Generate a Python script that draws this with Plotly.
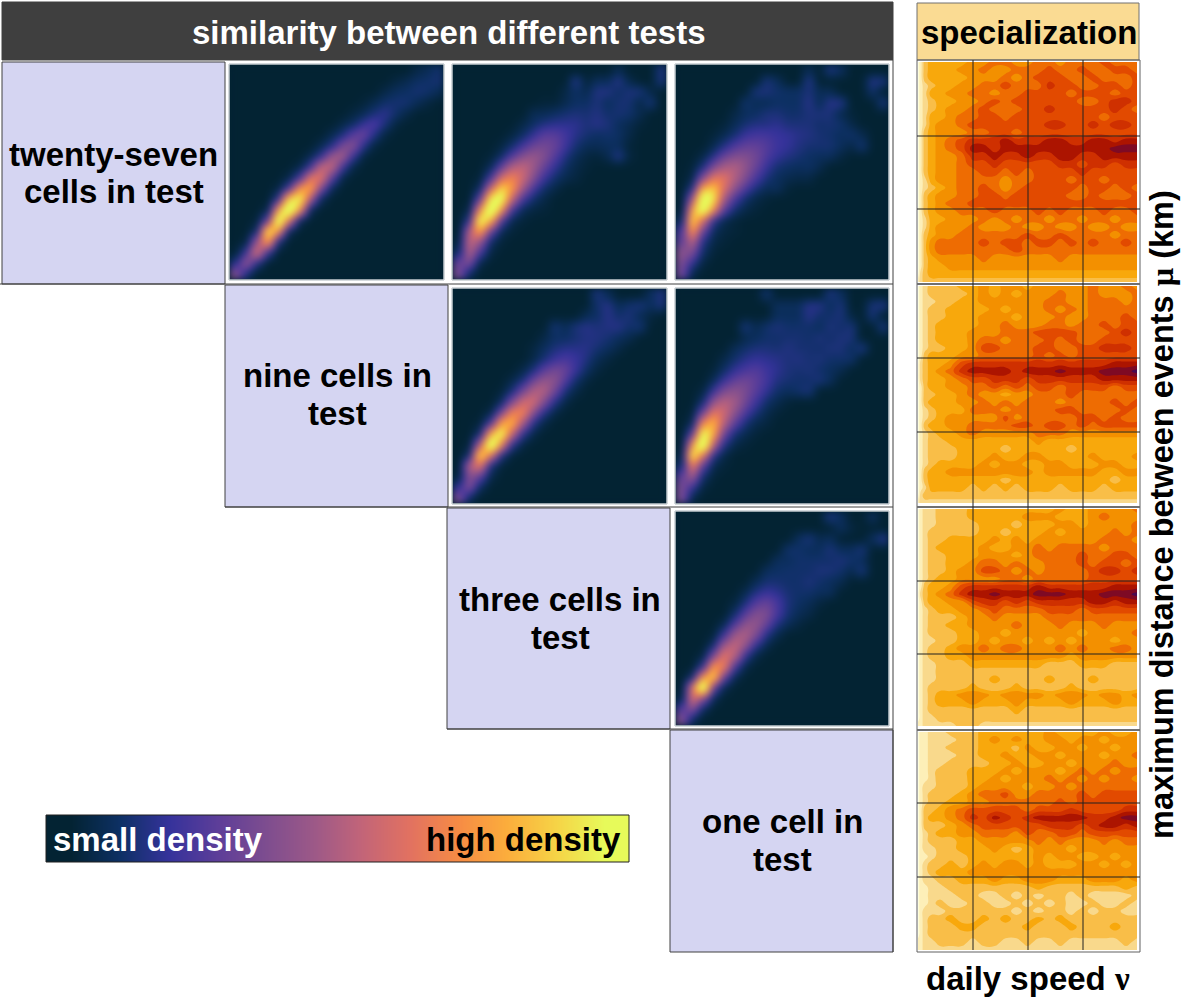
import plotly.graph_objects as go

W, H = 1181, 998

thermal = ["#032333", "#0d3064", "#35329b", "#5d3e99", "#7e4d8f", "#9e5987",
           "#c16479", "#e17161", "#f68b45", "#fbad3c", "#f6d346", "#e7fa5a"]
spec_colors = ["#FFFEDC", "#FDEFB8", "#F9D98C", "#F9BE48", "#F8A80C", "#F39000",
               "#EE6C02", "#E24A00", "#CF3000", "#AC1400", "#7E0A24", "#4A0A50"]

title_left = "similarity between different tests"
title_right = "specialization"
row_labels = [("twenty-seven", "cells in test"), ("nine cells in", "test"),
              ("three cells in", "test"), ("one cell in", "test")]

legend_values = [0, 9, 18, 27, 36, 45, 55, 64, 73, 82, 91, 100]

# density panels, bottom row first, 0-100
density_12 = [
    [30,10,0,0,0,0,0,0,0,0,0,0,0,0,0,0,0,0,0,0],
    [12,35,12,0,0,0,0,0,0,0,0,0,0,0,0,0,0,0,0,0],
    [1,18,50,15,0,0,0,0,0,0,0,0,0,0,0,0,0,0,0,0],
    [0,2,35,65,10,0,0,0,0,0,0,0,0,0,0,0,0,0,0,0],
    [0,0,8,80,60,5,0,0,0,0,0,0,0,0,0,0,0,0,0,0],
    [0,0,1,25,95,50,4,0,0,0,0,0,0,0,0,0,0,0,0,0],
    [0,0,0,3,60,100,60,5,0,0,0,0,0,0,0,0,0,0,0,0],
    [0,0,0,0,14,72,82,40,6,0,0,0,0,0,0,0,0,0,0,0],
    [0,0,0,0,2,18,60,66,30,5,0,0,0,0,0,0,0,0,0,0],
    [0,0,0,0,0,3,18,52,52,22,3,0,0,0,0,0,0,0,0,0],
    [0,0,0,0,0,0,3,16,44,44,18,3,0,0,0,0,0,0,0,0],
    [0,0,0,0,0,0,0,4,14,36,38,16,2,0,0,0,0,0,0,0],
    [0,0,0,0,0,0,0,0,4,12,28,31,13,2,0,0,0,0,0,0],
    [0,0,0,0,0,0,0,0,0,4,10,21,25,12,2,0,0,0,0,0],
    [0,0,0,0,0,0,0,0,0,0,3,7,15,19,10,2,0,0,0,0],
    [0,0,0,0,0,0,0,0,0,0,0,2,5,10,13,8,3,0,0,0],
    [0,0,0,0,0,0,0,0,0,0,0,0,1,4,8,9,9,5,2,0],
    [0,0,0,0,0,0,0,0,0,0,0,0,0,0,3,6,7,9,8,5],
    [0,0,0,0,0,0,0,0,0,0,0,0,0,0,0,2,4,7,8,9],
    [0,0,0,0,0,0,0,0,0,0,0,0,0,0,0,0,0,3,5,8],
]
density_13 = [
    [28,6,0,0,0,0,0,0,0,0,0,0,0,0,0,0,0,0,0,0],
    [24,28,3,0,0,0,0,0,0,0,0,0,0,0,0,0,0,0,0,0],
    [8,40,18,2,0,0,0,0,0,0,0,0,0,0,0,0,0,0,0,0],
    [2,45,35,7,1,0,0,0,0,0,0,0,0,0,0,0,0,0,0,0],
    [0,40,65,25,5,1,0,0,0,0,0,0,0,0,0,0,0,0,0,0],
    [0,15,85,65,20,4,1,0,0,0,0,0,0,0,0,0,0,0,0,0],
    [0,3,55,100,60,18,5,2,1,0,0,0,0,0,0,0,0,0,0,0],
    [0,0,22,80,88,45,18,8,3,0,0,0,0,0,0,0,0,0,0,0],
    [0,0,6,45,75,62,36,18,8,3,0,0,0,0,0,0,0,0,0,0],
    [0,0,1,18,48,57,46,30,16,8,4,2,0,0,0,0,0,0,0,0],
    [0,0,0,5,22,40,44,36,24,14,7,3,1,0,0,0,0,0,0,0],
    [0,0,0,1,7,20,31,35,30,20,11,5,2,1,4,12,2,0,0,0],
    [0,0,0,0,2,8,17,25,27,24,16,9,5,5,6,6,1,0,0,0],
    [0,0,0,0,0,2,7,14,21,21,17,12,9,7,8,7,3,0,0,0],
    [0,0,0,0,0,0,3,7,11,13,13,13,10,12,10,6,4,1,0,0],
    [0,0,0,0,0,0,0,5,5,7,9,10,9,11,8,9,8,4,0,0],
    [0,0,0,0,0,0,0,0,1,1,4,7,7,10,6,9,9,3,10,0],
    [0,0,0,0,0,0,0,0,0,0,3,7,4,11,11,7,10,10,3,0],
    [0,0,0,0,0,0,0,0,0,0,0,12,1,6,6,12,4,0,0,10],
    [0,0,0,0,0,0,0,0,0,0,0,0,0,0,0,5,0,0,0,10],
]
density_14 = [
    [26,3,0,0,0,0,0,0,0,0,0,0,0,0,0,0,0,0,0,0],
    [28,14,2,0,0,0,0,0,0,0,0,0,0,0,0,0,0,0,0,0],
    [32,28,7,1,0,0,0,0,0,0,0,0,0,0,0,0,0,0,0,0],
    [22,42,12,3,1,0,0,0,0,0,0,0,0,0,0,0,0,0,0,0],
    [18,62,25,6,2,1,0,0,0,0,0,0,0,0,0,0,0,0,0,0],
    [6,75,48,14,4,1,0,0,0,0,0,0,0,0,0,0,0,0,0,0],
    [0,62,92,58,22,8,3,1,0,0,0,0,0,0,0,0,0,0,0,0],
    [0,35,95,78,38,18,8,3,1,0,0,0,0,0,0,0,0,0,0,0],
    [0,12,65,72,50,32,19,10,5,6,1,0,0,0,0,0,0,0,0,0],
    [0,3,30,52,52,40,29,18,10,6,4,3,3,0,0,0,0,0,0,0],
    [0,1,10,28,38,40,33,24,15,9,7,6,7,4,0,0,0,0,0,0],
    [0,0,3,12,24,30,30,26,19,14,11,9,7,6,6,2,0,0,0,0],
    [0,0,0,4,11,19,23,23,20,16,14,11,9,9,9,6,3,9,0,0],
    [0,0,0,1,4,9,15,17,17,15,14,12,11,9,8,6,8,4,0,0],
    [0,0,0,0,1,5,9,11,11,13,10,10,10,8,9,8,3,0,0,0],
    [0,0,0,0,0,3,6,7,10,10,8,8,10,10,10,4,1,0,0,0],
    [0,0,0,0,0,0,8,5,5,7,7,7,12,5,12,12,0,0,0,10],
    [0,0,0,0,0,0,0,10,10,8,7,7,10,5,5,0,0,0,8,0],
    [0,0,0,0,0,0,0,0,10,6,0,0,12,0,0,0,0,0,12,10],
    [0,0,0,0,0,0,0,0,0,0,0,0,5,0,10,6,0,0,0,0],
]
density_23 = [
    [28,6,0,0,0,0,0,0,0,0,0,0,0,0,0,0,0,0,0,0],
    [14,30,6,0,0,0,0,0,0,0,0,0,0,0,0,0,0,0,0,0],
    [2,32,22,3,0,0,0,0,0,0,0,0,0,0,0,0,0,0,0,0],
    [0,40,52,10,1,0,0,0,0,0,0,0,0,0,0,0,0,0,0,0],
    [0,8,78,50,12,1,0,0,0,0,0,0,0,0,0,0,0,0,0,0],
    [0,1,40,98,55,14,2,0,0,0,0,0,0,0,0,0,0,0,0,0],
    [0,0,8,65,85,45,14,3,0,0,0,0,0,0,0,0,0,0,0,0],
    [0,0,1,18,62,68,38,13,3,0,0,0,0,0,0,0,0,0,0,0],
    [0,0,0,3,26,55,57,32,13,3,0,0,0,0,0,0,0,0,0,0],
    [0,0,0,0,6,28,47,48,30,12,3,0,0,0,0,0,0,0,0,0],
    [0,0,0,0,1,9,26,40,41,26,10,3,0,0,0,0,0,0,0,0],
    [0,0,0,0,0,3,10,25,34,32,20,8,2,0,0,0,0,0,0,0],
    [0,0,0,0,0,0,3,10,21,27,24,15,7,2,0,0,0,0,0,0],
    [0,0,0,0,0,0,0,3,9,15,18,15,11,5,2,0,0,0,0,0],
    [0,0,0,0,0,0,0,2,6,10,12,12,12,9,6,3,0,0,0,0],
    [0,0,0,0,0,0,0,0,3,7,7,9,11,11,9,6,4,0,0,0],
    [0,0,0,0,0,0,0,0,0,9,5,10,12,10,11,12,8,9,0,0],
    [0,0,0,0,0,0,0,0,0,0,0,0,5,7,12,8,10,5,2,0],
    [0,0,0,0,0,0,0,0,0,0,0,0,0,8,12,5,8,10,6,10],
    [0,0,0,0,0,0,0,0,0,0,0,0,0,10,5,0,0,0,6,10],
]
density_24 = [
    [28,3,0,0,0,0,0,0,0,0,0,0,0,0,0,0,0,0,0,0],
    [28,16,2,0,0,0,0,0,0,0,0,0,0,0,0,0,0,0,0,0],
    [22,36,8,1,0,0,0,0,0,0,0,0,0,0,0,0,0,0,0,0],
    [8,55,22,4,1,0,0,0,0,0,0,0,0,0,0,0,0,0,0,0],
    [2,82,52,14,3,0,0,0,0,0,0,0,0,0,0,0,0,0,0,0],
    [0,58,100,42,12,3,1,0,0,0,0,0,0,0,0,0,0,0,0,0],
    [0,22,85,66,26,9,4,1,0,0,0,0,0,0,0,0,0,0,0,0],
    [0,5,55,68,42,22,10,4,2,0,0,0,0,0,0,0,0,0,0,0],
    [0,1,25,52,47,32,19,10,4,1,0,0,0,0,0,0,0,0,0,0],
    [0,0,8,33,42,37,26,16,8,4,1,0,0,0,0,0,0,0,0,0],
    [0,0,2,15,28,32,28,21,14,8,6,8,10,0,0,0,0,0,0,0],
    [0,0,0,5,15,23,26,22,17,11,9,8,8,10,6,0,0,0,0,0],
    [0,0,0,1,7,14,18,20,16,13,10,9,10,8,6,4,0,0,0,0],
    [0,0,0,0,3,8,12,14,13,12,10,11,9,10,8,8,8,0,0,0],
    [0,0,0,0,0,5,8,10,10,9,11,9,9,8,10,10,6,11,0,0],
    [0,0,0,0,0,0,4,6,8,8,9,9,8,10,8,10,10,0,0,0],
    [0,0,0,0,0,0,10,4,8,10,8,8,8,6,10,8,10,0,0,10],
    [0,0,0,0,0,0,0,0,0,6,6,6,12,8,8,10,2,0,10,0],
    [0,0,0,0,0,0,0,0,0,6,6,6,12,12,6,10,0,0,10,11],
    [0,0,0,0,0,0,0,0,8,0,0,0,0,0,10,6,0,0,0,0],
]
density_34 = [
    [30,6,0,0,0,0,0,0,0,0,0,0,0,0,0,0,0,0,0,0],
    [20,30,6,0,0,0,0,0,0,0,0,0,0,0,0,0,0,0,0,0],
    [3,50,30,5,0,0,0,0,0,0,0,0,0,0,0,0,0,0,0,0],
    [0,50,100,25,4,0,0,0,0,0,0,0,0,0,0,0,0,0,0,0],
    [0,8,60,75,25,4,0,0,0,0,0,0,0,0,0,0,0,0,0,0],
    [0,0,15,62,55,18,3,0,0,0,0,0,0,0,0,0,0,0,0,0],
    [0,0,2,28,52,42,15,3,0,0,0,0,0,0,0,0,0,0,0,0],
    [0,0,0,8,36,45,34,14,4,0,0,0,0,0,0,0,0,0,0,0],
    [0,0,0,1,16,36,40,29,12,4,0,0,0,0,0,0,0,0,0,0],
    [0,0,0,0,4,20,33,34,24,11,5,2,0,0,0,0,0,0,0,0],
    [0,0,0,0,0,8,21,30,29,18,9,5,3,0,0,0,0,0,0,0],
    [0,0,0,0,0,2,10,20,24,18,10,7,5,2,0,0,0,0,0,0],
    [0,0,0,0,0,0,4,11,15,13,9,8,8,6,6,0,0,0,0,0],
    [0,0,0,0,0,0,0,5,9,9,8,8,10,8,6,4,0,0,0,0],
    [0,0,0,0,0,0,0,0,6,7,8,8,8,10,10,8,4,10,0,0],
    [0,0,0,0,0,0,0,0,0,6,6,8,8,8,8,10,8,6,0,0],
    [0,0,0,0,0,0,0,0,0,0,8,8,6,6,10,6,6,10,0,0],
    [0,0,0,0,0,0,0,0,0,0,0,6,10,4,6,0,0,0,6,12],
    [0,0,0,0,0,0,0,0,0,0,0,0,0,0,0,6,2,0,0,0],
    [0,0,0,0,0,0,0,0,0,0,0,0,0,0,10,6,0,0,6,0],
]

# specialization panels, top row first, level 0-11
spec_x = [0, .012, .03, .06, .1, .15, .2, .25, .3, .35, .4, .45, .5, .55, .6, .65, .7, .75, .8, .85, .9, .95, 1]
spec_y = list(range(29))
spec_1 = [
    [0,1,3,4,4,4,4,5,5,6,6,5,5,6,6,5,6,6,6,7,6,6,6],
    [0,1,3,4,4,4,5,5,6,5,5,6,6,6,7,6,6,7,6,6,7,7,6],
    [0,1,3,4,4,4,4,5,5,5,6,5,6,7,7,7,6,6,7,6,6,6,7],
    [0,1,2,3,4,4,5,5,6,6,7,6,6,6,8,7,7,6,6,7,7,6,7],
    [0,1,2,4,4,5,5,6,6,5,6,6,7,7,7,7,6,7,7,7,6,7,7],
    [0,1,2,3,4,4,5,5,6,7,6,7,7,7,7,7,7,6,6,7,8,8,7],
    [0,1,2,3,4,5,5,6,7,6,6,6,7,7,8,7,7,7,7,7,8,7,6],
    [0,1,2,4,4,5,6,6,7,7,6,7,7,7,7,7,7,7,7,6,7,7,7],
    [0,1,2,4,5,5,6,7,7,7,7,7,7,7,8,8,7,7,8,7,8,8,7],
    [0,1,3,4,5,5,5,6,6,7,7,6,7,7,7,7,7,7,7,7,7,7,7],
    [0,1,3,4,5,6,7,8,8,8,9,8,8,8,9,9,8,8,9,9,8,9,9],
    [0,1,3,4,5,6,7,9,9,8,9,9,9,9,9,9,9,9,9,9,10,10,10],
    [0,1,3,4,5,5,6,8,8,9,8,8,9,8,8,9,9,8,8,9,9,9,9],
    [0,1,3,4,5,5,6,7,7,8,7,7,7,7,7,8,8,7,8,8,7,8,8],
    [0,1,3,4,5,5,6,6,7,7,6,7,6,7,7,7,7,8,7,7,7,7,7],
    [0,1,2,4,5,5,6,6,6,6,5,6,6,7,7,7,6,7,7,6,7,7,7],
    [0,1,2,3,4,5,6,6,7,6,5,6,7,7,7,7,7,6,7,7,6,7,6],
    [0,1,3,4,5,5,6,6,7,7,6,7,7,7,7,7,6,6,7,6,6,6,7],
    [0,1,3,4,5,6,6,7,7,7,7,7,7,7,7,7,7,7,7,7,7,7,7],
    [0,1,3,4,5,5,6,6,6,7,6,6,6,7,6,7,6,6,6,7,6,6,7],
    [0,1,2,4,4,5,5,5,6,5,6,5,6,6,5,6,6,5,6,6,5,6,6],
    [0,1,2,4,5,5,5,6,5,5,5,6,5,5,6,5,5,6,5,5,6,5,5],
    [0,1,3,4,5,5,6,6,6,6,6,6,7,6,6,7,6,6,6,6,5,6,6],
    [0,1,3,5,6,6,6,6,7,6,7,7,6,7,7,6,7,6,7,6,6,7,6],
    [0,1,3,5,6,6,6,6,6,6,6,7,6,6,6,6,6,6,6,6,6,6,6],
    [0,1,3,4,5,5,5,5,6,5,5,5,5,5,5,6,5,5,5,5,5,5,5],
    [0,1,3,4,4,5,5,5,5,5,5,5,5,5,5,5,5,5,5,5,5,5,5],
    [0,2,3,4,4,4,4,4,4,4,4,4,4,4,4,4,4,4,4,4,4,4,4],
    [1,2,3,3,3,3,3,3,3,3,3,3,3,3,3,3,3,3,3,3,3,3,3],
]
spec_2 = [
    [0,1,2,3,3,3,4,4,5,4,5,5,4,5,5,5,5,5,6,5,5,6,5],
    [0,1,2,3,3,3,3,4,5,4,5,4,5,5,5,6,5,5,6,5,5,5,6],
    [0,1,2,2,3,3,4,4,5,5,5,5,5,5,6,6,5,5,6,6,6,5,6],
    [0,1,2,3,3,4,4,4,4,5,4,5,5,5,6,5,6,5,6,6,6,6,6],
    [0,1,2,3,3,4,4,4,5,5,5,4,5,5,5,6,5,5,6,6,6,7,6],
    [0,1,2,3,4,4,4,4,5,5,6,5,5,5,6,6,5,6,6,7,6,7,7],
    [0,1,2,3,4,4,4,5,5,5,6,6,6,7,7,7,7,6,6,6,7,8,7],
    [0,1,2,3,4,4,4,5,6,6,5,6,6,6,7,6,7,6,6,7,7,7,7],
    [0,1,2,3,3,4,4,5,7,7,6,6,6,7,7,6,6,7,7,8,8,8,7],
    [0,1,3,4,4,4,5,5,6,6,6,6,6,7,6,7,6,7,7,7,7,7,7],
    [0,2,3,4,4,5,7,8,8,8,8,8,8,8,8,8,8,8,8,8,9,9,9],
    [0,2,3,4,5,6,8,9,9,9,9,8,9,9,9,10,9,9,9,10,10,10,11],
    [0,2,3,4,4,5,6,7,7,8,8,8,7,8,8,8,8,8,8,9,9,9,9],
    [0,1,3,4,4,5,5,6,6,7,6,7,6,7,7,6,7,7,7,7,6,7,7],
    [0,1,3,3,4,4,5,6,5,5,4,5,5,6,6,6,7,6,6,6,6,6,6],
    [0,1,3,4,4,4,5,5,6,5,6,5,6,6,6,5,6,6,6,6,7,6,7],
    [0,1,2,3,4,4,4,6,6,6,5,6,6,6,6,7,7,6,6,6,6,7,6],
    [0,1,2,3,4,5,5,5,5,5,7,5,6,6,6,6,6,7,7,6,7,6,6],
    [0,1,3,4,4,5,5,6,6,6,6,7,7,6,7,7,6,7,6,7,7,7,7],
    [0,1,2,3,4,4,5,6,5,5,5,5,5,6,6,6,5,5,5,5,5,5,5],
    [0,1,2,3,3,4,4,4,4,4,4,4,4,5,4,4,4,4,4,4,4,4,4],
    [0,1,2,3,3,3,4,4,4,4,3,4,4,4,4,4,3,4,4,4,4,4,4],
    [0,1,2,3,3,3,4,4,4,5,4,4,5,5,4,4,4,4,5,4,4,4,5],
    [0,1,2,3,4,4,4,4,5,4,5,5,4,4,5,5,4,4,4,5,5,4,4],
    [0,1,3,4,4,5,5,5,5,5,5,5,5,4,5,5,5,5,5,4,4,5,5],
    [0,1,3,4,4,4,4,4,4,4,3,4,4,4,4,4,4,4,4,4,3,4,4],
    [0,1,2,4,4,4,4,3,4,3,4,3,4,4,4,3,4,4,4,3,4,4,4],
    [0,2,3,3,3,3,3,3,3,3,3,3,3,3,3,3,3,3,3,3,3,3,3],
    [1,2,2,2,2,2,2,2,2,2,2,2,2,2,2,2,2,2,2,2,2,2,2],
]
spec_3 = [
    [0,1,2,2,3,3,3,4,4,4,4,4,4,4,4,5,4,4,5,5,5,5,6],
    [0,1,2,2,3,3,3,4,4,4,4,4,5,5,5,4,4,4,5,6,5,5,5],
    [0,1,2,2,3,3,3,3,4,4,4,3,4,4,4,5,5,4,5,5,5,5,6],
    [0,1,2,3,3,3,3,3,4,4,3,4,4,4,5,4,5,5,5,5,6,5,6],
    [0,1,2,3,3,4,4,4,4,5,4,5,4,5,5,5,5,5,5,6,6,6,5],
    [0,1,2,3,4,4,4,4,5,4,4,5,5,6,5,6,6,6,6,5,6,6,6],
    [0,1,2,3,3,4,4,4,5,5,5,4,5,6,6,6,6,7,6,6,7,7,6],
    [0,1,2,3,3,4,4,5,6,6,5,6,5,5,6,6,6,7,6,7,7,6,7],
    [0,1,2,3,3,4,5,5,7,7,6,5,6,5,6,6,6,6,7,8,8,7,8],
    [0,1,2,3,4,4,5,5,5,5,6,6,5,6,6,6,6,6,7,7,7,7,7],
    [0,1,3,4,4,5,7,8,8,8,8,8,8,9,8,8,8,8,8,8,9,9,9],
    [0,2,3,4,5,6,8,9,9,10,9,9,9,10,10,10,9,9,9,10,10,10,11],
    [0,1,3,4,4,5,5,7,8,8,7,8,7,8,8,8,8,8,9,9,8,9,9],
    [0,1,2,3,4,4,5,5,6,7,6,6,6,6,7,7,7,6,7,7,7,7,7],
    [0,1,2,3,3,3,4,5,5,6,5,5,5,5,6,6,6,6,6,6,6,6,6],
    [0,1,2,3,3,4,4,5,5,5,5,6,5,5,5,6,5,5,5,6,5,5,5],
    [0,1,2,3,3,3,4,4,5,5,4,5,5,5,5,5,5,4,5,5,5,5,6],
    [0,1,2,2,3,3,4,4,5,4,5,5,4,5,4,5,4,5,5,5,4,5,5],
    [0,1,2,3,3,4,5,5,6,5,6,6,5,5,5,6,5,6,5,5,6,6,5],
    [0,1,2,3,3,4,4,5,5,5,5,5,5,5,5,5,4,5,5,5,5,5,5],
    [0,1,2,2,3,3,3,4,4,4,4,4,4,4,3,3,3,4,4,4,3,3,3],
    [0,1,2,2,3,3,3,3,3,3,3,3,3,3,3,3,3,3,3,3,3,3,3],
    [0,1,2,2,3,3,3,3,3,4,3,3,3,3,4,3,3,3,4,3,3,3,3],
    [0,1,2,3,3,3,3,4,3,3,3,4,3,3,3,3,4,3,3,3,3,3,3],
    [0,1,2,3,4,4,5,5,5,4,5,5,5,5,4,5,5,5,4,5,5,4,5],
    [0,1,2,3,4,4,4,5,4,4,4,5,4,4,4,4,5,4,4,4,5,4,4],
    [0,1,2,3,3,3,3,3,3,3,3,4,3,3,3,3,3,3,3,3,3,3,3],
    [0,1,2,2,3,3,3,3,3,3,3,3,3,3,3,3,3,3,3,3,3,3,3],
    [1,1,2,2,2,2,3,3,2,2,2,2,2,2,2,2,2,2,2,2,2,2,2],
]
spec_4 = [
    [0,1,1,2,2,3,3,3,4,4,4,4,4,4,5,4,4,4,4,5,4,4,5],
    [0,1,1,2,2,2,3,3,4,5,4,5,4,4,5,5,4,5,5,4,5,5,5],
    [0,1,1,2,2,3,3,3,4,4,4,3,5,4,4,5,5,4,5,5,4,5,5],
    [0,1,1,2,2,2,3,3,4,4,5,4,4,5,5,4,5,5,5,4,5,5,6],
    [0,1,1,2,2,3,3,3,3,4,4,5,4,4,5,5,4,5,5,5,6,5,5],
    [0,1,1,2,3,3,3,4,4,4,5,4,5,5,5,4,5,6,5,6,5,6,6],
    [0,1,1,2,3,3,3,4,4,5,4,5,5,5,6,5,6,5,6,5,6,6,5],
    [0,1,2,2,3,3,3,4,5,5,5,5,4,5,5,6,5,6,6,6,6,6,6],
    [0,1,2,3,3,3,4,5,6,6,7,5,5,6,6,6,6,7,6,7,7,7,7],
    [0,1,2,3,3,4,4,5,5,6,6,6,6,6,6,7,6,7,7,7,7,7,7],
    [0,1,3,3,4,5,6,7,7,7,7,7,6,7,7,7,8,7,7,7,7,8,8],
    [0,1,3,4,4,5,6,8,7,9,8,7,8,9,9,9,9,9,8,8,9,10,10],
    [0,1,3,3,3,4,5,6,7,7,7,7,7,7,8,8,8,7,8,9,9,8,9],
    [0,1,2,3,4,4,5,5,6,6,6,5,7,6,6,7,7,6,7,7,7,7,7],
    [0,1,2,3,3,3,4,4,5,5,5,5,5,6,5,6,5,5,5,6,5,6,6],
    [0,1,2,2,3,3,4,4,4,5,4,3,4,5,5,5,4,5,5,5,5,5,5],
    [0,1,1,2,3,3,3,4,4,4,4,4,4,5,4,5,5,4,4,5,4,5,5],
    [0,1,2,3,3,4,3,4,5,4,5,5,4,5,4,4,4,5,5,4,5,4,5],
    [0,1,2,3,4,4,4,5,5,5,5,5,5,5,5,5,5,5,5,5,5,5,5],
    [0,1,2,2,3,3,4,4,4,5,4,4,5,5,5,4,4,4,5,5,5,4,5],
    [0,1,1,2,2,3,3,3,3,3,3,3,3,4,3,3,3,3,3,3,3,4,3],
    [0,1,1,2,2,2,3,3,2,2,3,2,3,2,3,3,2,3,2,2,2,2,3],
    [0,1,1,2,3,2,2,3,3,2,2,3,2,3,2,3,2,2,3,2,2,3,2],
    [0,1,2,2,2,3,3,3,3,3,3,2,3,2,3,3,2,3,2,3,3,2,2],
    [0,1,2,3,3,4,3,3,4,3,4,3,3,4,3,4,3,3,3,3,3,3,3],
    [0,1,2,3,3,3,4,4,3,3,3,3,4,3,3,3,4,3,3,3,4,3,3],
    [0,1,2,3,3,3,3,3,3,3,3,3,3,3,3,3,3,3,3,3,3,3,3],
    [1,1,2,2,3,3,3,2,3,3,2,2,3,2,2,3,2,2,2,2,2,3,2],
    [1,1,2,2,2,2,2,2,2,2,2,2,2,2,2,2,2,2,2,2,2,2,2],
]


def px(x):
    return x / W


def py(y):
    return 1 - y / H


def rect(x0, y0, x1, y1, fill=None, line="#404040", width=1, layer="below"):
    return dict(type="rect", xref="paper", yref="paper", x0=px(x0), x1=px(x1), y0=py(y0), y1=py(y1),
                fillcolor=fill or "rgba(0,0,0,0)", line=dict(color=line, width=width), layer=layer)


def hline(x0, x1, y, color="#202020", width=1):
    return dict(type="line", xref="paper", yref="paper", x0=px(x0), x1=px(x1), y0=py(y), y1=py(y),
                line=dict(color=color, width=width), layer="above")


def vline(x, y0, y1, color="#202020", width=1):
    return dict(type="line", xref="paper", yref="paper", x0=px(x), x1=px(x), y0=py(y0), y1=py(y1),
                line=dict(color=color, width=width), layer="above")


def label(x, y, text, size=33, color="black", angle=0):
    return dict(xref="paper", yref="paper", x=px(x), y=py(y), text="<b>" + text + "</b>", showarrow=False,
                xanchor="center", yanchor="middle", textangle=angle,
                font=dict(family="Liberation Sans", size=size, color=color))


fig = go.Figure()
layout = {}
n = 0


def add_axes(box, **yopts):
    global n
    n += 1
    x0, y0, x1, y1 = box
    layout[f"xaxis{n}"] = dict(domain=[px(x0), px(x1)], visible=False, fixedrange=True, anchor=f"y{n}")
    layout[f"yaxis{n}"] = dict(domain=[py(y1), py(y0)], visible=False, fixedrange=True, anchor=f"x{n}", **yopts)
    return f"x{n}", f"y{n}"


thermal_scale = [[i / 11, c] for i, c in enumerate(thermal)]
density_panels = [
    (density_12, (230, 65, 443, 279)),
    (density_13, (453, 65, 666, 279)),
    (density_14, (676, 65, 888, 279)),
    (density_23, (453, 289, 666, 503)),
    (density_24, (676, 289, 888, 503)),
    (density_34, (676, 512, 888, 725)),
]
for z, box in density_panels:
    xa, ya = add_axes(box)
    # zmax under 100 so the blurred core still reaches yellow
    fig.add_trace(go.Heatmap(z=z, xaxis=xa, yaxis=ya, zmin=0, zmax=80, zsmooth="best",
                             colorscale=thermal_scale, showscale=False, hoverinfo="skip"))

spec_scale = [[i / 11, c] for i, c in enumerate(spec_colors)]
spec_panels = [
    (spec_1, (918, 62, 1137, 282)),
    (spec_2, (918, 286, 1137, 503)),
    (spec_3, (918, 509, 1137, 726)),
    (spec_4, (918, 732, 1137, 950)),
]
for z, box in spec_panels:
    xa, ya = add_axes(box, autorange="reversed")
    layout[f"xaxis{n}"]["range"] = [0, 1]
    fig.add_trace(go.Contour(z=z, x=spec_x, y=spec_y, xaxis=xa, yaxis=ya, zmin=0, zmax=11,
                             colorscale=spec_scale, showscale=False, hoverinfo="skip",
                             line=dict(width=0, smoothing=1.3),
                             contours=dict(coloring="fill", start=0.5, end=10.5, size=1)))

# legend strip
xa, ya = add_axes((46, 815, 629, 862))
legend_axis = xa + ya
fig.add_trace(go.Heatmap(z=[legend_values], xaxis=xa, yaxis=ya, zmin=0, zmax=100, zsmooth="best",
                         colorscale=thermal_scale, showscale=False, hoverinfo="skip"))

shapes = [
    rect(2, 2, 893, 60, fill="#3F3F3F"),
    rect(917, 3, 1139, 60, fill="#FADB93", line="#707070"),
    rect(2, 62, 225, 284, fill="#D5D5F2"),
    rect(225, 285, 448, 507, fill="#D5D5F2"),
    rect(447, 508, 670, 729, fill="#D5D5F2"),
    rect(670, 730, 893, 952, fill="#D5D5F2"),
    rect(917, 60, 1140, 952, line="#606060", layer="above"),
    rect(46, 815, 629, 862, line="#202020", layer="above"),
    hline(0, 893, 284, "#404040"),
    hline(225, 893, 507, "#404040"),
    hline(447, 893, 729, "#404040"),
    vline(893, 60, 952, "#404040"),
    hline(917, 1140, 284, "#707070", 2),
    hline(917, 1140, 507, "#707070", 2),
    hline(917, 1140, 730, "#707070", 2),
]
for _, (x0, y0, x1, y1) in density_panels:
    shapes.append(rect(x0, y0, x1, y1, fill=thermal[0], line=thermal[0]))
    shapes.append(rect(x0 - 1, y0 - 1, x1 + 1, y1 + 1, line="#A9B3BA", layer="above"))
for x in (973, 1028, 1083):
    shapes.append(vline(x, 60, 950))
for y in (136, 209, 358, 432, 581, 654, 803, 877):
    shapes.append(hline(917, 1140, y))

annotations = [
    label(448, 33, title_left, color="white"),
    label(1029, 33, title_right),
    label(113, 154, row_labels[0][0]),
    label(114, 192, row_labels[0][1]),
    label(337, 375, row_labels[1][0]),
    label(337, 413, row_labels[1][1]),
    label(560, 599, row_labels[2][0]),
    label(560, 637, row_labels[2][1]),
    label(782, 821, row_labels[3][0]),
    label(782, 859, row_labels[3][1]),
    label(158, 839, "small density", color="white"),
    label(523, 839, "high density"),
    label(1162, 515, "maximum distance between events "
          "<span style='font-family:Liberation Serif'>μ</span> (km)", size=32.5, angle=-90),
    label(1028, 978, "daily speed <span style='font-family:Liberation Serif'>ν</span>"),
]

fig.update_layout(width=W, height=H, margin=dict(l=0, r=0, t=0, b=0), paper_bgcolor="white",
                  plot_bgcolor="rgba(0,0,0,0)", showlegend=False, shapes=shapes, annotations=annotations, **layout)

# the density images in the picture are soft, the bilinear heatmap alone shows the grid
css = ".subplot:not(.%s) .hm image{filter:blur(3.5px)}" % legend_axis
fig.write_html("out.html", config={"displayModeBar": False},
               post_script="var s=document.createElement('style');s.textContent='%s';"
                           "document.head.appendChild(s);document.body.style.margin='0';" % css)
